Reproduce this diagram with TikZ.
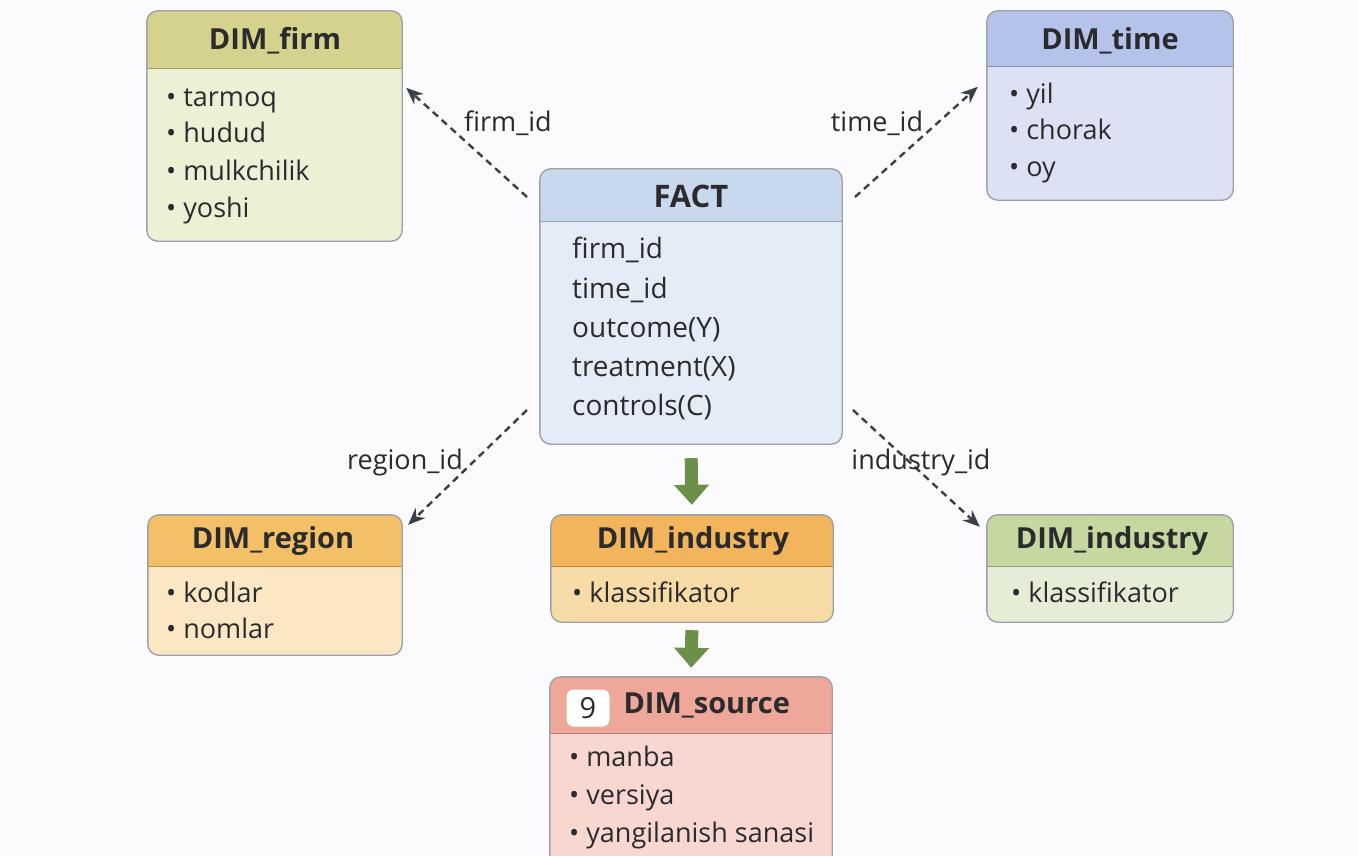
\documentclass[tikz,border=0pt]{standalone}
\usepackage{fontspec}
\setmainfont{Open Sans}
\usepackage{xcolor}
\usepackage{tikz}
\usetikzlibrary{arrows.meta,positioning,calc,fit}

\definecolor{bg}{HTML}{FBFBFD}
\definecolor{ink}{HTML}{2B2B2E}
\definecolor{fkgray}{HTML}{3A3F48}
\definecolor{flowgreen}{HTML}{6C8F4A}
\definecolor{boxline}{HTML}{9EA2A8}
\definecolor{firmhead}{HTML}{D4D28C}
\definecolor{firmbody}{HTML}{EEF0D6}
\definecolor{facthead}{HTML}{C8D9EE}
\definecolor{factbody}{HTML}{E4ECF7}
\definecolor{timehead}{HTML}{B5C3EA}
\definecolor{timebody}{HTML}{DCE2F3}
\definecolor{regionhead}{HTML}{F3C068}
\definecolor{regionbody}{HTML}{FBE7C4}
\definecolor{indhead}{HTML}{F2B55C}
\definecolor{indbody}{HTML}{F8DCA8}
\definecolor{indtwohead}{HTML}{C5D8A0}
\definecolor{indtwobody}{HTML}{E6EDD6}
\definecolor{srchead}{HTML}{EEA899}
\definecolor{srcbody}{HTML}{F8D7D1}

% table box: name, corner, corner, header height, header colour, body colour
\newcommand{\tblbox}[6]{%
  \node[tbl, fit={#2 #3}, fill=#6] (#1) {};
  \begin{scope}
    \clip[rounded corners=11pt] (#1.south west) rectangle (#1.north east);
    \fill[#5] (#1.north west) rectangle ([yshift=-#4]#1.north east);
  \end{scope}
  \draw[#5!75!black, line width=1pt] ([yshift=-#4]#1.north west) -- ([yshift=-#4]#1.north east);
  \draw[boxline, line width=1.4pt, rounded corners=11pt] (#1.south west) rectangle (#1.north east);
}

\begin{document}
\begin{tikzpicture}[
    x=1pt, y=-1pt,
    tbl/.style={rectangle, rounded corners=11pt, inner sep=0pt},
    tbltitle/.style={font=\fontsize{29}{32}\selectfont\bfseries, text=ink},
    item/.style={anchor=west, inner sep=0pt, text height=21pt, text depth=7pt,
                 font=\fontsize{27}{30}\selectfont, text=ink},
    factitem/.style={item, font=\fontsize{28}{31}\selectfont},
    fklabel/.style={inner sep=1pt, text height=21pt, text depth=7pt,
                    font=\fontsize{27}{30}\selectfont, text=ink},
    fk/.style={-{Stealth[length=17pt,width=14pt]}, draw=fkgray, line width=2.4pt,
               dash pattern=on 7pt off 5pt},
    flow/.style={-{Triangle[length=20pt,width=34pt]}, draw=flowgreen, line width=13pt}
]
\clip (0,0) rectangle (1358,856);
\fill[bg] (0,0) rectangle (1358,856);

% Fact table
\tblbox{fact}{(540,169)}{(842,444)}{53}{facthead}{factbody}
\node[tbltitle, font=\fontsize{31}{34}\selectfont\bfseries] (fact-title) at (691,196) {FACT};
\node[factitem] (fact-1) at (572,251) {firm\_id};
\node[factitem] (fact-2) at (572,291) {time\_id};
\node[factitem] (fact-3) at (572,330) {outcome(Y)};
\node[factitem] (fact-4) at (572,369) {treatment(X)};
\node[factitem] (fact-5) at (572,408) {controls(C)};

% Firm dimension
\tblbox{firm}{(147,11)}{(402,241)}{58}{firmhead}{firmbody}
\node[tbltitle] (firm-title) at (275,41) {DIM\_firm};
\node[item] (firm-1) at (166,100) {\textbullet\ tarmoq};
\node[item] (firm-2) at (166,136) {\textbullet\ hudud};
\node[item] (firm-3) at (166,173) {\textbullet\ mulkchilik};
\node[item] (firm-4) at (166,210) {\textbullet\ yoshi};

% Time dimension
\tblbox{time}{(987,11)}{(1233,200)}{56}{timehead}{timebody}
\node[tbltitle] (time-title) at (1110,41) {DIM\_time};
\node[item] (time-1) at (1009,97) {\textbullet\ yil};
\node[item] (time-2) at (1009,133) {\textbullet\ chorak};
\node[item] (time-3) at (1009,170) {\textbullet\ oy};

% Region dimension
\tblbox{region}{(148,515)}{(402,655)}{52}{regionhead}{regionbody}
\node[tbltitle] (region-title) at (273,541) {DIM\_region};
\node[item] (region-1) at (166,595) {\textbullet\ kodlar};
\node[item] (region-2) at (166,631) {\textbullet\ nomlar};

% Industry dimension (middle)
\tblbox{indmid}{(551,515)}{(833,622)}{52}{indhead}{indbody}
\node[tbltitle] (indmid-title) at (693,541) {DIM\_industry};
\node[item] (indmid-1) at (572,595) {\textbullet\ klassifikator};

% Industry dimension (right)
\tblbox{indright}{(987,515)}{(1233,622)}{52}{indtwohead}{indtwobody}
\node[tbltitle] (indright-title) at (1112,541) {DIM\_industry};
\node[item] (indright-1) at (1011,595) {\textbullet\ klassifikator};

% Source dimension
\tblbox{source}{(550,677)}{(832,880)}{57}{srchead}{srcbody}
\node[fill=white, rounded corners=7pt, minimum width=43pt, minimum height=37pt,
      inner sep=0pt, font=\fontsize{29}{32}\selectfont, text=ink] (source-badge) at (588,708) {9};
\node[tbltitle, anchor=west] (source-title) at (620,705) {DIM\_source};
\node[item] (source-1) at (569,759) {\textbullet\ manba};
\node[item] (source-2) at (569,797) {\textbullet\ versiya};
\node[item] (source-3) at (569,835) {\textbullet\ yangilanish sanasi};

% Foreign keys
\coordinate (fk-firm-start) at (527,197);
\coordinate (fk-time-start) at (855,197);
\coordinate (fk-region-start) at (527,410);
\coordinate (fk-ind-start) at (853,410);
\draw[fk] (fk-firm-start) -- ($(firm.north east)+(4,77)$);
\draw[fk] (fk-time-start) -- ($(time.north west)+(-9,76)$);
\draw[fk] (fk-region-start) -- ($(region.north east)+(6,10)$);
\draw[fk] (fk-ind-start) -- ($(indright.north west)+(-7,12)$);
\node[fklabel] (firm-key) at (508,125) {firm\_id};
\node[fklabel] (time-key) at (877,125) {time\_id};
\node[fklabel] (region-key) at (405,462) {region\_id};
\node[fklabel] (ind-key) at (921,462) {industry\_id};

% Flow
\draw[flow, shorten <=14pt, shorten >=10pt] (fact.south) -- (indmid.north);
\draw[flow, shorten <=8pt, shorten >=9pt] (indmid.south) -- (source.north);

\end{tikzpicture}
\end{document}
